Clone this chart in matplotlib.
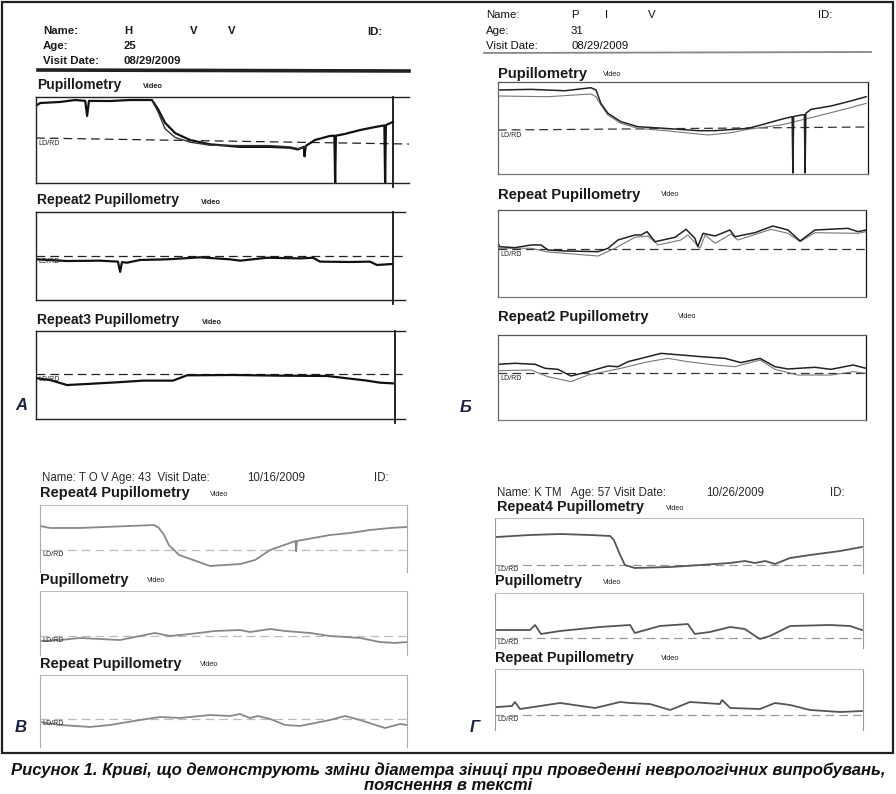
import matplotlib.pyplot as plt
from matplotlib.patches import Rectangle

plt.rcParams['font.family'] = ['Liberation Sans', 'DejaVu Sans']

W, H = 896, 794

# ---- traces: time (% of recording) and pupil size (% of chart range) ----
# A: Pupillometry / Repeat2 / Repeat3
a1_t = [0.3, 1.1, 6.4, 10.5, 13.2, 13.7, 14.2, 19.8, 25.2, 31.1, 32.7, 34.6, 37.3, 41.3, 46.6, 54.7, 62.7, 68.1,
        70.2, 71.8, 72.0, 72.3, 74.8, 78.8, 80.0, 80.2, 80.4, 82.8, 86.9, 90.9, 93.4, 93.6, 93.8, 94.4, 95.7]
a1_d = [90.7, 93.0, 94.2, 96.5, 95.5, 78.0, 95.5, 95.3, 96.5, 96.5, 86.0, 70.0, 58.0, 50.0, 45.0, 42.0, 42.0, 41.0,
        39.0, 42.0, 31.0, 43.0, 50.0, 54.7, 55.0, 0.0, 55.0, 57.0, 61.6, 65.1, 67.0, 0.0, 67.0, 68.6, 70.9]
a1b_t = [31.1, 32.7, 34.6, 37.3, 41.3, 46.6, 54.7, 62.7, 68.1, 70.2, 72.5]
a1b_d = [96.0, 83.0, 63.0, 53.0, 47.5, 44.0, 43.5, 43.5, 42.0, 40.0, 42.0]
a1_ld = [52.3, 45.3]

a2_t = [0.3, 8.4, 17.3, 22.2, 22.8, 23.3, 24.7, 28.2, 35.5, 44.4, 52.6, 55.3, 62.6, 71.5, 75.1, 77.0, 85.1, 90.5,
        92.4, 96.5]
a2_d = [46.2, 44.3, 44.7, 43.6, 32.0, 43.0, 42.4, 45.5, 46.2, 48.5, 46.2, 44.7, 48.0, 47.3, 48.0, 43.6, 43.2, 43.6,
        39.8, 40.9]
a2_ld = [50.0, 50.0]

a3_t = [0.5, 3.8, 8.4, 13.8, 22.0, 29.0, 37.1, 40.9, 53.4, 66.9, 78.9, 89.7, 93.2, 96.7]
a3_d = [46.2, 44.3, 38.6, 39.8, 41.7, 43.6, 43.6, 49.6, 50.0, 49.2, 48.9, 43.6, 41.3, 40.5]
a3_ld = [51.1, 51.1]

# Б: Pupillometry / Repeat / Repeat2 (dark = one eye, light = other eye)
b1_t = [0, 8.9, 18.1, 25.1, 26.5, 27.8, 29.7, 33.2, 37.8, 45.1, 54.1, 58.6, 67.6, 71.1, 76.5, 79.5, 79.7, 79.9,
        81.9, 82.8, 83.0, 83.2, 84.6, 90.0, 94.6, 99.5]
b1_d = [91.3, 92.0, 90.5, 93.8, 91.3, 76.8, 66.0, 56.9, 51.4, 49.6, 47.1, 47.1, 49.6, 53.3, 59.4, 62.3, 1.0, 62.5,
        64.1, 64.5, 1.0, 66.0, 70.3, 73.9, 78.6, 84.0]
b1l_t = [0, 13.5, 25.1, 26.5, 27.8, 29.7, 33.2, 37.8, 45.1, 54.1, 56.8, 63.0, 67.6, 76.5, 85.7, 94.6, 99.5]
b1l_d = [84.8, 84.0, 87.0, 84.0, 75.0, 64.1, 55.1, 49.6, 47.1, 43.5, 42.4, 44.9, 48.6, 53.3, 62.3, 71.4, 76.8]
b1_ld = [47.8, 51.1]

b2_t = [0, 0.5, 4.6, 9.0, 11.7, 13.6, 18.2, 27.2, 29.9, 32.6, 37.2, 38.9, 40.5, 42.7, 48.1, 51.1, 53.5, 54.3,
        55.7, 59.0, 63.0, 64.4, 69.8, 74.7, 78.8, 82.1, 86.1, 95.1, 97.8, 100]
b2_d = [61.7, 57.8, 56.7, 59.8, 59.8, 54.0, 52.9, 52.1, 56.0, 65.5, 71.3, 71.3, 75.1, 63.6, 68.6, 77.8, 67.5, 57.8,
        73.2, 70.1, 77.0, 69.3, 73.9, 81.6, 77.0, 64.4, 77.0, 78.9, 75.1, 77.0]
b2l_t = [0, 9.0, 13.6, 27.2, 31.8, 37.2, 40.8, 43.5, 49.7, 51.6, 54.9, 56.3, 59.0, 63.3, 65.2, 74.2, 78.8, 82.1,
         86.1, 97.8, 100]
b2l_d = [56.0, 56.0, 51.7, 47.1, 56.0, 68.6, 70.1, 59.8, 65.5, 71.3, 56.0, 71.3, 61.7, 72.4, 65.5, 77.8, 73.2, 63.6,
         73.9, 73.2, 75.1]
b2_ld = [55.2, 55.2]

b3_t = [0, 4.6, 10.1, 12.8, 16.3, 19.8, 24.5, 29.9, 32.6, 35.3, 38.9, 44.3, 49.7, 55.2, 61.7, 66.0, 71.2, 75.3,
        78.8, 86.1, 90.5, 96.5, 100]
b3_d = [65.5, 66.7, 65.5, 60.8, 59.6, 51.8, 56.8, 63.5, 62.7, 68.6, 72.5, 78.4, 76.5, 74.5, 72.5, 67.5, 72.5, 62.7,
        60.0, 62.0, 59.6, 64.7, 60.8]
b3l_t = [0, 9.0, 13.6, 19.8, 24.5, 33.4, 40.8, 46.2, 51.6, 59.0, 64.4, 71.2, 75.3, 81.5, 90.5, 96.5, 100]
b3l_d = [58.0, 58.8, 50.9, 45.1, 52.9, 60.8, 68.6, 72.5, 68.6, 64.7, 62.7, 70.6, 59.6, 52.9, 52.9, 56.8, 54.9]
b3_ld = [55.3, 55.3]

# В: Repeat4 / Pupillometry / Repeat
c1_t = [0, 2.7, 10.9, 24.5, 31.1, 32.4, 33.8, 35.1, 37.9, 43.3, 46.3, 54.5, 58.6, 62.7, 68.1, 69.6, 69.8, 70.0,
        79.0, 84.5, 89.9, 95.4, 100]
c1_d = [68.7, 65.7, 65.7, 68.7, 70.1, 65.7, 55.2, 40.3, 25.4, 14.9, 9.0, 11.9, 17.9, 32.8, 43.3, 46.3, 31.0, 46.3,
        55.2, 58.2, 62.7, 65.7, 67.2]
c1_ld = [32.8, 32.8]

c2_t = [0, 5.4, 10.9, 16.3, 21.8, 27.2, 31.3, 35.4, 40.9, 47.7, 54.5, 57.2, 62.7, 66.8, 73.6, 79.0, 87.2, 92.6,
        96.7, 100]
c2_d = [21.9, 23.4, 26.6, 25.0, 23.4, 29.7, 34.4, 29.7, 32.8, 37.5, 39.1, 35.9, 40.6, 37.5, 34.4, 29.7, 26.6, 20.3,
        18.8, 20.3]
c2_ld = [29.7, 29.7]

c3_t = [0, 5.4, 13.6, 19.1, 27.2, 32.7, 38.1, 46.3, 51.8, 54.5, 57.2, 59.4, 62.7, 66.8, 70.8, 74.9, 79.0, 83.1,
        87.2, 94.0, 98.1, 100]
c3_d = [34.7, 30.6, 27.8, 30.6, 37.5, 41.7, 40.3, 44.4, 43.1, 45.8, 40.3, 43.1, 38.9, 30.6, 29.2, 33.3, 37.5, 43.1,
        37.5, 26.4, 31.9, 30.6]
c3_ld = [38.9, 38.9]

# Г: Repeat4 / Pupillometry / Repeat
d1_t = [0.5, 9.5, 17.7, 25.8, 31.3, 32.3, 34.0, 35.3, 38.0, 47.6, 55.7, 63.9, 67.9, 70.7, 73.4, 76.1, 80.2, 85.6,
        93.8, 99.7]
d1_d = [65.5, 69.1, 70.9, 69.1, 67.3, 60.0, 32.7, 14.5, 9.1, 10.9, 14.5, 18.2, 21.8, 18.2, 21.8, 16.4, 27.3, 32.7,
        40.0, 47.3]
d1_ld = [14.5, 14.5]

d2_t = [0.5, 9.5, 10.9, 12.5, 17.7, 28.5, 36.7, 38.0, 44.8, 52.4, 54.3, 58.4, 63.9, 67.9, 70.7, 72.0, 74.7, 80.2,
        91.0, 96.5, 99.7]
d2_d = [32.7, 32.7, 41.8, 25.5, 30.9, 38.2, 41.8, 27.3, 40.0, 43.6, 25.5, 29.1, 38.2, 34.5, 21.8, 16.4, 21.8, 40.0,
        41.8, 40.0, 32.7]
d2_ld = [18.2, 18.2]

d3_t = [0.5, 4.6, 5.4, 6.8, 12.2, 17.7, 27.2, 34.0, 36.7, 42.1, 47.6, 53.0, 61.1, 61.7, 63.9, 72.0, 76.1, 80.2,
        85.6, 93.8, 99.7]
d3_d = [37.7, 39.3, 45.9, 34.4, 39.3, 44.3, 36.1, 45.9, 44.3, 42.6, 32.8, 45.9, 42.6, 49.2, 36.1, 34.4, 44.3, 41.0,
        32.8, 29.5, 31.1]
d3_ld = [24.6, 24.6]

caption = ['Рисунок 1. Криві, що демонструють зміни діаметра зіниці при проведенні неврологічних випробувань,',
           'пояснення в тексті']

fig = plt.figure(figsize=(W / 100, H / 100), dpi=100)
bg = fig.add_axes([0, 0, 1, 1])
bg.set_xlim(0, W)
bg.set_ylim(H, 0)
bg.axis('off')

# outer frame of the figure
bg.add_patch(Rectangle((2, 2), 891, 751, fill=False, lw=1.6, ec='#222'))


def px_axes(box):
    l, t, r, b = box
    ax = fig.add_axes([l / W, 1 - b / H, (r - l) / W, (b - t) / H])
    ax.set_xlim(0, 100)
    ax.set_ylim(0, 100)
    ax.set_xticks([])
    ax.set_yticks([])
    ax.patch.set_alpha(0)
    return ax


def chart(box, traces, ld, style, end=None):
    ax = px_axes(box)
    for side in ['left', 'right', 'top', 'bottom']:
        c = style['spines'].get(side)
        if c is None:
            ax.spines[side].set_visible(False)
        else:
            ax.spines[side].set_color(c)
            ax.spines[side].set_linewidth(style.get('spine_lw', 1.0))
    ax.plot([0, 100], ld, color=style['ld_color'], lw=0.9, dashes=(7, 4))
    ax.text(0.6, ld[0] - 2, 'LD/RD', fontsize=5, va='top', ha='left', color='#222')
    for t, d, c, lw in traces:
        ax.plot(t, d, color=c, lw=lw, solid_joinstyle='round')
    if end is not None:
        ax.axvline(end, ymin=-0.05, ymax=1.0, color='#111', lw=1.3, clip_on=False)
    return ax


def title(x, y, name, vx, vy, size=10, vbold=True):
    bg.text(x, y, name, fontsize=size, fontweight='bold', va='center', color='#1a1a1a')
    bg.text(vx, vy, 'Video', fontsize=5.3, fontweight='bold' if vbold else 'normal', va='center', color='#222')


style_a = {'spines': {'left': '#222', 'top': '#222', 'bottom': '#222'}, 'ld_color': '#222', 'spine_lw': 1.0}
style_b = {'spines': {'left': '#666', 'top': '#555', 'bottom': '#777', 'right': '#111'}, 'ld_color': '#333',
           'spine_lw': 0.9}
style_c = {'spines': {'left': '#aaa', 'top': '#bbb', 'right': '#aaa'}, 'ld_color': '#bbb', 'spine_lw': 0.8}
style_d = {'spines': {'left': '#999', 'top': '#bbb', 'right': '#999'}, 'ld_color': '#999', 'spine_lw': 0.8}

# ---------- panel A ----------
for x, y, s in [(43, 31, 'Name:'), (124, 31, 'H'), (190, 31, 'V'), (228, 31, 'V'), (367, 32, 'ID:'),
                (43, 46, 'Age:'), (124, 46, '25'), (43, 61, 'Visit Date:'), (124, 61, '08/29/2009')]:
    bg.text(x, y, s, fontsize=8.2, fontweight='bold', va='center', color='#1a1a1a')
bg.plot([38, 409], [70, 71], color='#222', lw=2.6)
title(37, 85, 'Pupillometry', 143, 87)
chart((36, 97, 409, 183), [(a1_t, a1_d, '#111', 1.6), (a1b_t, a1b_d, '#333', 1.0)], a1_ld, style_a, end=95.7)
title(37, 200, 'Repeat2 Pupillometry', 201, 202)
chart((36, 212, 405, 300), [(a2_t, a2_d, '#111', 1.6)], a2_ld, style_a, end=96.7)
title(37, 320, 'Repeat3 Pupillometry', 202, 322)
chart((36, 331, 405, 419), [(a3_t, a3_d, '#111', 1.6)], a3_ld, style_a, end=97.3)

# ---------- panel Б ----------
for x, y, s in [(486, 15, 'Name:'), (571, 15, 'P'), (605, 15, 'I'), (648, 15, 'V'), (818, 15, 'ID:'),
                (486, 31, 'Age:'), (571, 31, '31'), (486, 46, 'Visit Date:'), (571, 46, '08/29/2009')]:
    bg.text(x, y, s, fontsize=8.2, va='center', color='#111')
bg.plot([484, 871], [53, 52], color='#888', lw=1.3)
title(498, 74, 'Pupillometry', 603, 74, size=10.6, vbold=False)
chart((498, 82, 868, 174), [(b1l_t, b1l_d, '#777', 0.8), (b1_t, b1_d, '#222', 1.1)], b1_ld, style_b)
title(498, 195, 'Repeat Pupillometry', 661, 195, size=10.6, vbold=False)
chart((498, 210, 866, 297), [(b2l_t, b2l_d, '#777', 0.8), (b2_t, b2_d, '#222', 1.1)], b2_ld, style_b)
title(498, 317, 'Repeat2 Pupillometry', 678, 317, size=10.6, vbold=False)
chart((498, 335, 866, 420), [(b3l_t, b3l_d, '#777', 0.8), (b3_t, b3_d, '#222', 1.1)], b3_ld, style_b)

# ---------- panel В ----------
bg.text(42, 478, 'Name: T O V Age: 43  Visit Date:', fontsize=8.3, va='center', color='#2a2a2a')
bg.text(247, 478, '10/16/2009', fontsize=8.3, va='center', color='#2a2a2a')
bg.text(374, 478, 'ID:', fontsize=8.3, va='center', color='#2a2a2a')
title(40, 493, 'Repeat4 Pupillometry', 210, 495, size=10.5, vbold=False)
chart((40, 505, 407, 572), [(c1_t, c1_d, '#888', 1.3)], c1_ld, style_c)
title(40, 580, 'Pupillometry', 147, 581, size=10.5, vbold=False)
chart((40, 591, 407, 655), [(c2_t, c2_d, '#888', 1.3)], c2_ld, style_c)
title(40, 664, 'Repeat Pupillometry', 200, 665, size=10.5, vbold=False)
chart((40, 675, 407, 747), [(c3_t, c3_d, '#888', 1.3)], c3_ld, style_c)

# ---------- panel Г ----------
bg.text(497, 493, 'Name: K TM   Age: 57 Visit Date:', fontsize=8.3, va='center', color='#2a2a2a')
bg.text(706, 493, '10/26/2009', fontsize=8.3, va='center', color='#2a2a2a')
bg.text(830, 493, 'ID:', fontsize=8.3, va='center', color='#2a2a2a')
title(497, 507, 'Repeat4 Pupillometry', 666, 508, size=10.4, vbold=False)
chart((495, 518, 863, 573), [(d1_t, d1_d, '#555', 1.3)], d1_ld, style_d)
title(495, 581, 'Pupillometry', 603, 582, size=10.4, vbold=False)
chart((495, 593, 863, 648), [(d2_t, d2_d, '#555', 1.3)], d2_ld, style_d)
title(495, 658, 'Repeat Pupillometry', 661, 659, size=10.4, vbold=False)
chart((495, 669, 863, 730), [(d3_t, d3_d, '#555', 1.3)], d3_ld, style_d)

# panel letters
for x, y, s in [(15, 405, 'A'), (460, 408, 'Б'), (15, 728, 'В'), (470, 728, 'Г')]:
    bg.text(x, y, s, fontsize=12, fontweight='bold', fontstyle='italic', va='center', color='#1c2340')

# caption
cap_font = ['Liberation Sans Narrow', 'Liberation Sans', 'DejaVu Sans']
bg.text(448, 770, caption[0], fontsize=12.0, fontweight='bold', fontstyle='italic', ha='center', va='center',
        family=cap_font, color='#111')
bg.text(448, 786, caption[1], fontsize=12.0, fontweight='bold', fontstyle='italic', ha='center', va='center',
        family=cap_font, color='#111')

fig.savefig('out.png', dpi=100)
